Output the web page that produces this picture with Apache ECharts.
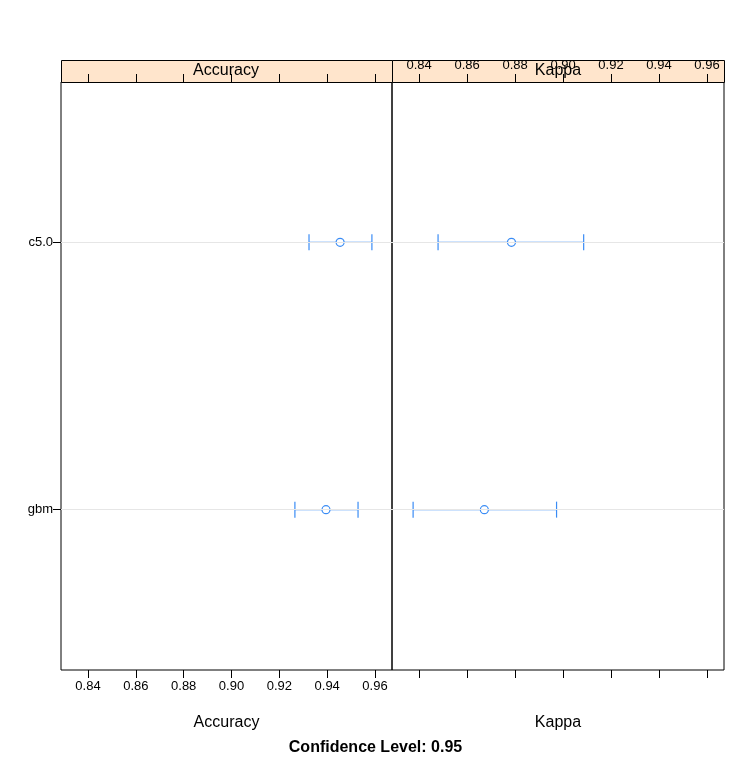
<!DOCTYPE html>
<html><head><meta charset="utf-8">
<script src="https://cdn.jsdelivr.net/npm/echarts@6/dist/echarts.min.js"></script>
<style>html,body{margin:0;background:#fff}#c{width:751px;height:757px}</style>
</head><body><div id="c"></div>
<script>
var models = ['gbm', 'c5.0'];
var accLow = [0.9265, 0.9324], accMid = [0.9395, 0.9454], accHigh = [0.9529, 0.9587];
var kapLow = [0.8375, 0.8479], kapMid = [0.8672, 0.8785], kapHigh = [0.8973, 0.9086];
var ticks = [0.84, 0.86, 0.88, 0.90, 0.92, 0.94, 0.96];

var font = 'Liberation Sans, Arial, sans-serif';
var blue = '#3a8cf5';
var xmin = 0.8287, xmax = 0.9671;

function rows(lo, mid, hi) {
  return models.map(function (m, i) { return [i + 1, lo[i], mid[i], hi[i]]; });
}
function renderBar(params, api) {
  var y = api.value(0);
  var a = api.coord([api.value(1), y]), p = api.coord([api.value(2), y]), b = api.coord([api.value(3), y]);
  var st = { stroke: blue, lineWidth: 1.2, fill: null };
  return { type: 'group', children: [
    { type: 'line', shape: { x1: a[0], y1: a[1], x2: b[0], y2: b[1] }, style: st },
    { type: 'line', shape: { x1: a[0], y1: a[1] - 8, x2: a[0], y2: a[1] + 8 }, style: st },
    { type: 'line', shape: { x1: b[0], y1: b[1] - 8, x2: b[0], y2: b[1] + 8 }, style: st },
    { type: 'circle', shape: { cx: p[0], cy: p[1], r: 4 }, style: { stroke: blue, lineWidth: 1.2, fill: '#fff' } }
  ]};
}
function xAx(grid, pos, labels, name) {
  return {
    type: 'value', gridIndex: grid, position: pos, min: xmin, max: xmax,
    axisLine: { show: false }, splitLine: { show: false },
    axisTick: { show: true, inside: false, length: 8, customValues: ticks, lineStyle: { color: '#000' } },
    axisLabel: { show: labels, customValues: ticks, color: '#000', fontSize: 13, fontFamily: font, margin: 10,
      formatter: function (v) { return v.toFixed(2); } },
    name: name, nameLocation: 'middle', nameGap: 45,
    nameTextStyle: { color: '#000', fontSize: 16, fontFamily: font }
  };
}
function yAx(grid, labels) {
  return {
    type: 'value', gridIndex: grid, min: 0.4, max: 2.6,
    axisLine: { show: false }, splitLine: { show: false },
    axisTick: { show: labels, length: 8, customValues: [1, 2], lineStyle: { color: '#000' } },
    axisLabel: { show: labels, customValues: [1, 2], color: '#000', fontSize: 13, fontFamily: font,
      formatter: function (v) { return models[Math.round(v) - 1]; } }
  };
}
function mark() {
  return { silent: true, symbol: 'none', label: { show: false },
    lineStyle: { color: '#e6e6e6', type: 'solid', width: 1 },
    data: [{ yAxis: 1 }, { yAxis: 2 }] };
}
var chart = echarts.init(document.getElementById('c'));
chart.setOption({
  animation: false,
  title: { text: 'Confidence Level: 0.95', left: 'center', top: 735,
    textStyle: { fontSize: 16, fontWeight: 'bold', fontFamily: font, color: '#000' } },
  grid: [
    { left: 61, width: 331, top: 82, bottom: 87, show: true, borderColor: '#000', borderWidth: 1 },
    { left: 392, width: 332, top: 82, bottom: 87, show: true, borderColor: '#000', borderWidth: 1 }
  ],
  xAxis: [xAx(0, 'bottom', true, 'Accuracy'), xAx(0, 'top', false, ''),
          xAx(1, 'bottom', false, 'Kappa'), xAx(1, 'top', true, '')],
  yAxis: [yAx(0, true), yAx(1, false)],
  graphic: [
    { type: 'rect', left: 61, top: 60, shape: { width: 331, height: 22 }, style: { fill: '#ffe5cc', stroke: '#000', lineWidth: 1 } },
    { type: 'rect', left: 392, top: 60, shape: { width: 332, height: 22 }, style: { fill: '#ffe5cc', stroke: '#000', lineWidth: 1 } },
    { type: 'text', x: 226, y: 71, style: { text: 'Accuracy', align: 'center', verticalAlign: 'middle', fontSize: 16, fontFamily: font, fill: '#000' } },
    { type: 'text', x: 558, y: 71, style: { text: 'Kappa', align: 'center', verticalAlign: 'middle', fontSize: 16, fontFamily: font, fill: '#000' } }
  ],
  series: [
    { type: 'custom', xAxisIndex: 0, yAxisIndex: 0, renderItem: renderBar, data: rows(accLow, accMid, accHigh),
      encode: { x: [1, 2, 3], y: 0 }, markLine: mark(), z: 3 },
    { type: 'custom', xAxisIndex: 2, yAxisIndex: 1, renderItem: renderBar, data: rows(kapLow, kapMid, kapHigh),
      encode: { x: [1, 2, 3], y: 0 }, markLine: mark(), z: 3 }
  ]
});
</script></body></html>
